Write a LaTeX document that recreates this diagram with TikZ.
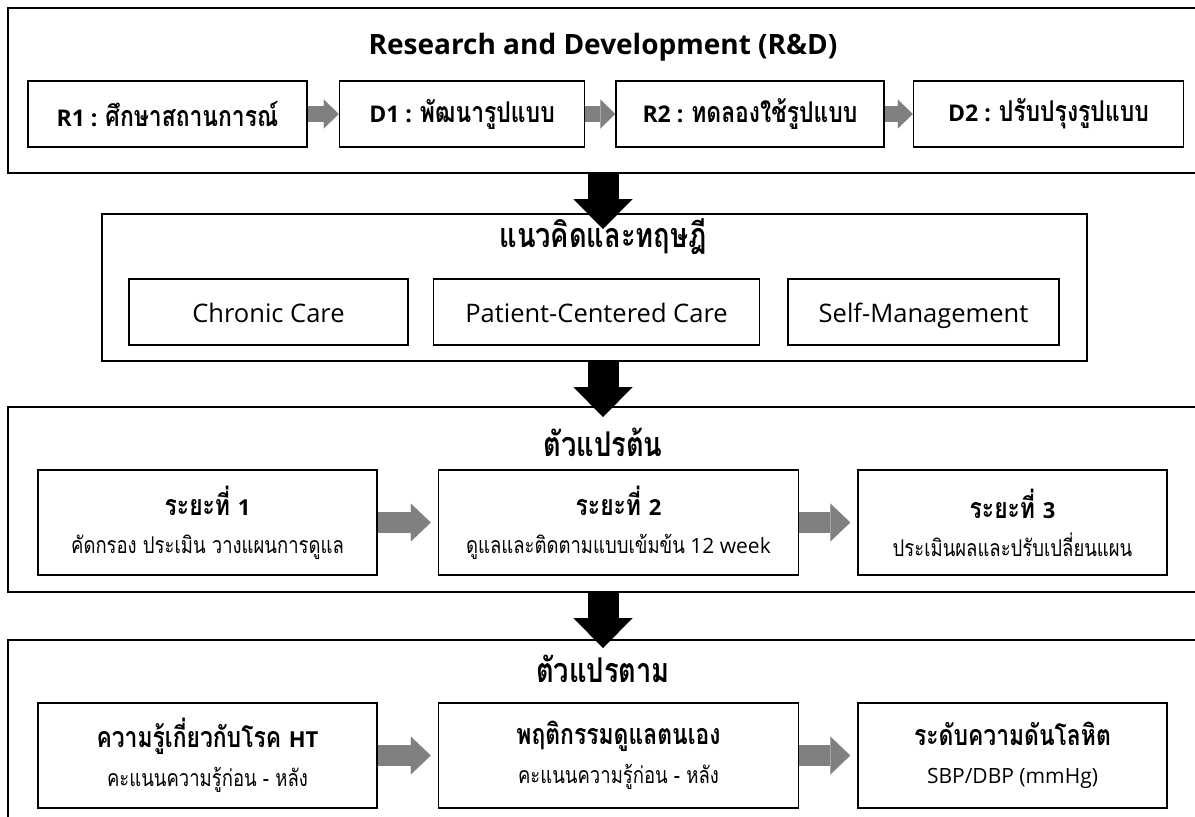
\documentclass[tikz,border=0pt]{standalone}
\usepackage{fontspec}
\setmainfont{Open Sans}
\newfontfamily\thaifont[Script=Thai, FakeStretch=0.8, Scale=1.1]{Loma}
\newcommand{\thai}[1]{{\thaifont #1}}
\newcommand{\thaib}[1]{{\thaifont\bfseries\fontsize{26}{30}\selectfont #1}}
\usetikzlibrary{arrows.meta, calc, positioning}
\definecolor{flowgray}{RGB}{128,128,128}
\tikzset{
  frame/.style={draw, line width=1.6pt, anchor=north west, inner sep=0pt}, % outer frames
  headtext/.style={font=\bfseries\fontsize{28}{33}\selectfont},
  thaihead/.style={font=\thaifont\bfseries\fontsize{31}{36}\selectfont},
  stepbox/.style={draw, line width=1.5pt, minimum height=66pt, inner sep=2pt,
    font=\bfseries\fontsize{23}{27}\selectfont},
  ideabox/.style={draw, line width=1.5pt, minimum height=66pt, inner sep=2pt,
    text height=20pt, text depth=0pt, font=\fontsize{25.5}{30}\selectfont},
  phasebox/.style={draw, line width=1.5pt, minimum height=105pt, inner sep=2pt,
    align=center, font=\fontsize{21}{26}\selectfont},
  thinflow/.style={draw=flowgray, line width=16pt,
    -{Triangle[width=29pt,length=15pt,line width=0.01pt]}},
  thickflow/.style={draw=flowgray, line width=21pt, shorten >=7pt,
    -{Triangle[width=38pt,length=20pt,line width=0.01pt]}},
  bigflow/.style={draw=black, line width=31pt,
    -{Triangle[width=59pt,length=30pt,line width=0.01pt]}},
}
% bold heading line of a phase box: thai part, then latin part
\newcommand{\phasehead}[2]{{\bfseries\fontsize{22}{27}\selectfont{\thaifont\fontsize{26}{30}\selectfont #1}#2}}
\begin{document}
\begin{tikzpicture}[x=1pt, y=-1pt]
  \useasboundingbox (0,0) rectangle (1195,817);
  \clip (0,0) rectangle (1195,817);
  \coordinate (axis) at (603,0);

  % R&D
  \node[frame, minimum width=1250pt, minimum height=165pt] (rd) at (7,7) {};
  \node[headtext] (rdhead) at (603,47) {Research and Development (R\&D)};
  \node[stepbox, minimum width=279pt] (r1) at (167.5,114) {R1 : \thaib{ศึกษาสถานการณ์}};
  \node[stepbox, minimum width=245pt, right=31pt of r1] (d1) {D1 : \thaib{พัฒนารูปแบบ}};
  \node[stepbox, minimum width=268pt, right=30pt of d1] (r2) {R2 : \thaib{ทดลองใช้รูปแบบ}};
  \node[stepbox, minimum width=270pt, right=28pt of r2] (d2) {D2 : \thaib{ปรับปรุงรูปแบบ}};

  % theory
  \node[frame, minimum width=985pt, minimum height=147pt] (theory) at (101,213) {};
  \node[thaihead] (theoryhead) at (603,237) {แนวคิดและทฤษฎี};
  \node[ideabox, minimum width=279pt] (chronic) at (268.5,312) {Chronic Care};
  \node[ideabox, minimum width=326pt, right=24pt of chronic] (centered) {Patient-Centered Care};
  \node[ideabox, minimum width=271pt, right=27pt of centered] (selfman) {Self-Management};

  % independent variables
  \node[frame, minimum width=1250pt, minimum height=185pt] (indep) at (7,406) {};
  \node[thaihead] (indephead) at (603,442) {ตัวแปรต้น};
  \node[phasebox, minimum width=339pt] (ph1) at (207.5,522.5)
    {\phasehead{ระยะที่ }{1}\\[12pt]\thai{คัดกรอง ประเมิน วางแผนการดูแล}};
  \node[phasebox, minimum width=360pt, right=60pt of ph1] (ph2)
    {\phasehead{ระยะที่ }{2}\\[12pt]\thai{ดูแลและติดตามแบบเข้มข้น} 12 week};
  \node[phasebox, minimum width=309pt, right=58pt of ph2] (ph3)
    {\phasehead{ระยะที่ }{3}\\[12pt]\thai{ประเมินผลและปรับเปลี่ยนแผน}};

  % dependent variables
  \node[frame, minimum width=1250pt, minimum height=300pt] (dep) at (7,639) {};
  \node[thaihead] (dephead) at (603,669) {ตัวแปรตาม};
  \node[phasebox, minimum width=339pt] (know) at (207.5,755.5)
    {\phasehead{ความรู้เกี่ยวกับโรค }{HT}\\[12pt]\thai{คะแนนความรู้ก่อน - หลัง}};
  \node[phasebox, minimum width=360pt, right=60pt of know] (behave)
    {\phasehead{พฤติกรรมดูแลตนเอง}{}\\[12pt]\thai{คะแนนความรู้ก่อน - หลัง}};
  \node[phasebox, minimum width=309pt, right=58pt of behave] (pressure)
    {\phasehead{ระดับความดันโลหิต}{}\\[12pt]SBP/DBP (mmHg)};

  % gray flows
  \draw[thinflow] (r1) -- (d1);
  \draw[thinflow] (d1) -- (r2);
  \draw[thinflow] (r2) -- (d2);
  \draw[thickflow] (ph1) -- (ph2);
  \draw[thickflow] (ph2) -- (ph3);
  \draw[thickflow] (know) -- (behave);
  \draw[thickflow] (behave) -- (pressure);

  % black flows
  \draw[bigflow, shorten >=-16pt] (rd.south -| axis) -- (theory.north -| axis);
  \draw[bigflow, shorten >=-11pt] (theory.south -| axis) -- (indep.north -| axis);
  \draw[bigflow, shorten >=-9pt] (indep.south -| axis) -- (dep.north -| axis);
\end{tikzpicture}
\end{document}
